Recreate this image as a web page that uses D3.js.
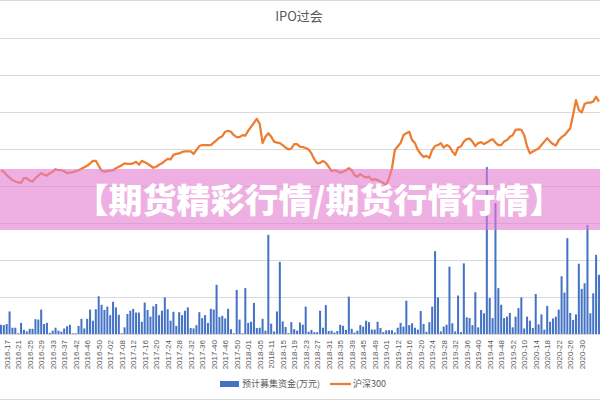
<!DOCTYPE html>
<html>
<head>
<meta charset="utf-8">
<script src="https://cdn.jsdelivr.net/npm/d3@7"></script>
<style>
body { margin: 0; background: #fff; }
svg { display: block; font-family: "Noto Sans CJK SC", "Noto Sans", sans-serif; }
</style>
</head>
<body>
<div id="chart"></div>
<script>
// weekly expected IPO funds (亿元) and CSI 300 close
const funds = [
    25, 24, 27, 61, 17, 17, 2, 30, 11, 7,
    14, 14, 40, 39, 66, 27, 30, 3, 9, 17,
    9, 6, 15, 21, 25, 2, 2, 22, 41, 15,
    41, 66, 36, 67, 102, 79, 65, 74, 51, 87,
    72, 52, 2, 18, 54, 63, 68, 58, 58, 33,
    85, 65, 47, 75, 81, 51, 63, 99, 67, 36,
    60, 22, 59, 51, 63, 72, 16, 15, 24, 59,
    43, 51, 30, 68, 66, 133, 46, 49, 42, 68,
    13, 2, 119, 39, 2, 124, 30, 33, 84, 16,
    17, 41, 9, 268, 28, 7, 61, 195, 34, 19,
    2, 32, 13, 9, 31, 25, 74, 6, 11, 5,
    5, 63, 17, 78, 8, 9, 4, 8, 25, 22,
    11, 101, 14, 4, 9, 24, 20, 36, 32, 12,
    12, 33, 16, 5, 10, 10, 10, 4, 17, 30,
    20, 90, 24, 29, 17, 12, 62, 27, 6, 32,
    74, 224, 99, 7, 20, 25, 182, 29, 7, 104,
    5, 191, 45, 43, 24, 113, 18, 65, 56, 451,
    97, 43, 354, 124, 79, 43, 47, 57, 18, 47,
    70, 99, 15, 47, 36, 16, 108, 26, 53, 12,
    76, 33, 42, 47, 66, 156, 112, 259, 57, 38,
    53, 190, 122, 137, 295, 56, 110, 214, 160
];

const hs300 = [
    3320, 3290, 3220, 3170, 3120, 3090, 3070, 3070, 3160, 3160,
    3110, 3090, 3160, 3210, 3260, 3230, 3210, 3260, 3290, 3340,
    3320, 3320, 3300, 3260, 3270, 3280, 3300, 3320, 3350, 3380,
    3410, 3460, 3510, 3510, 3410, 3310, 3290, 3300, 3310, 3320,
    3360, 3390, 3420, 3460, 3450, 3450, 3460, 3490, 3430, 3510,
    3480, 3450, 3410, 3370, 3390, 3430, 3460, 3510, 3550, 3540,
    3630, 3650, 3660, 3690, 3700, 3700, 3700, 3650, 3730, 3810,
    3830, 3830, 3830, 3830, 3880, 3930, 3980, 4010, 4100, 4120,
    4100, 4030, 3990, 3990, 4030, 4020, 4120, 4200, 4280, 4360,
    4260, 3870, 4000, 4070, 4000, 3900, 3880, 3870, 3830, 3780,
    3740, 3760, 3850, 3850, 3800, 3790, 3770, 3740, 3660, 3540,
    3460, 3470, 3510, 3470, 3390, 3300, 3320, 3300, 3270, 3290,
    3320, 3360, 3320, 3220, 3190, 3240, 3200, 3170, 3190, 3120,
    3140, 3120, 3090, 3060, 3020, 3160, 3360, 3730, 3800, 3870,
    4030, 4070, 4100, 3930, 3870, 3730, 3650, 3590, 3610, 3570,
    3730, 3810, 3830, 3870, 3780, 3830, 3800, 3700, 3630, 3780,
    3800, 3900, 3950, 3960, 3900, 3810, 3870, 3890, 3850, 3880,
    3920, 3950, 3880, 3830, 3830, 3900, 3930, 4000, 4030, 4140,
    4150, 4140, 4030, 3800, 3660, 3700, 3730, 3760, 3830, 3900,
    3970, 3900, 3850, 3820, 3930, 3990, 4030, 4100, 4170, 4440,
    4740, 4540, 4490, 4660, 4690, 4690, 4710, 4810, 4710
];

const tickLabels = [
    "2016-17", "2016-21", "2016-25", "2016-29", "2016-33", "2016-37", "2016-42", "2016-46", "2016-50",
    "2017-02", "2017-08", "2017-12", "2017-16", "2017-20", "2017-24", "2017-28", "2017-32", "2017-36",
    "2017-40", "2017-46", "2017-50", "2018-01", "2018-05", "2018-11", "2018-15", "2018-19", "2018-23",
    "2018-27", "2018-31", "2018-35", "2018-39", "2018-45", "2018-49", "2019-01", "2019-12", "2019-16",
    "2019-20", "2019-24", "2019-28", "2019-32", "2019-36", "2019-40", "2019-44", "2019-48", "2019-52",
    "2020-10", "2020-14", "2020-18", "2020-22", "2020-26", "2020-30"
];

const seriesNames = ["预计募集资金(万元)", "沪深300"];
const title = "IPO过会";
const banner = "【期货精彩行情/期货行情行情】";

const width = 600, height = 400;
const firstTick = 2;

const svg = d3.select("#chart")
    .append("svg")
    .attr("width", width)
    .attr("height", height);

const x = d3.scaleBand()
    .domain(d3.range(funds.length))
    .range([-0.5, 600.4])
    .paddingInner(0.3)
    .paddingOuter(0.15);

const yBar = d3.scaleLinear().domain([0, 800]).range([334, 38]);
const yLine = d3.scaleLinear().domain([0, 6000]).range([334, 38]);

// chart frame edges
svg.append("g")
    .selectAll("line")
    .data([0.5, 399.5])
    .enter().append("line")
    .attr("x1", 0).attr("x2", width)
    .attr("y1", d => d).attr("y2", d => d)
    .attr("stroke", "#d9d9d9");

svg.append("text")
    .attr("x", 299)
    .attr("y", 21)
    .attr("text-anchor", "middle")
    .attr("font-size", 13)
    .attr("fill", "#595959")
    .text(title);

const grid = svg.append("g")
    .call(d3.axisLeft(yBar).ticks(8).tickSize(-width).tickFormat(""));
grid.select(".domain").remove();
grid.selectAll(".tick line").attr("stroke", "#d9d9d9");

svg.append("g")
    .selectAll("rect")
    .data(funds)
    .enter().append("rect")
    .attr("x", (d, i) => x(i))
    .attr("width", x.bandwidth())
    .attr("y", d => yBar(d))
    .attr("height", d => yBar(0) - yBar(d))
    .attr("fill", "#4472c4");

const line = d3.line()
    .x((d, i) => x(i) + x.bandwidth() / 2)
    .y(d => yLine(d));

svg.append("path")
    .datum(hs300)
    .attr("d", line)
    .attr("fill", "none")
    .attr("stroke", "#ed7d31")
    .attr("stroke-width", 2.25)
    .attr("stroke-linejoin", "round");

const xAxis = svg.append("g")
    .attr("transform", "translate(0,334)")
    .call(d3.axisBottom(x)
        .tickValues(tickLabels.map((t, k) => firstTick + 4 * k))
        .tickFormat(i => tickLabels[(i - firstTick) / 4])
        .tickSize(0));
xAxis.select(".domain").remove();
xAxis.selectAll("text")
    .attr("transform", "rotate(-90)")
    .attr("x", -6)
    .attr("y", 0)
    .attr("dy", "0.35em")
    .style("text-anchor", "end")
    .attr("font-size", 8)
    .attr("fill", "#595959");

// legend
const legend = svg.append("g").attr("font-size", 9).attr("fill", "#595959");
legend.append("rect")
    .attr("x", 220).attr("y", 381)
    .attr("width", 19).attr("height", 6)
    .attr("fill", "#4472c4");
legend.append("text")
    .attr("x", 242).attr("y", 387)
    .text(seriesNames[0]);
legend.append("line")
    .attr("x1", 330).attr("x2", 351)
    .attr("y1", 384).attr("y2", 384)
    .attr("stroke", "#ed7d31")
    .attr("stroke-width", 2.25);
legend.append("text")
    .attr("x", 353).attr("y", 387)
    .text(seriesNames[1]);

// pink overlay banner
svg.append("rect")
    .attr("x", 0).attr("y", 169)
    .attr("width", width).attr("height", 61)
    .attr("fill", "rgb(227,123,207)")
    .attr("fill-opacity", 0.6);

svg.append("text")
    .attr("x", 319)
    .attr("y", 213)
    .attr("text-anchor", "middle")
    .attr("font-size", 34)
    .attr("font-weight", 900)
    .attr("fill", "#fff")
    .text(banner);
</script>
</body>
</html>
